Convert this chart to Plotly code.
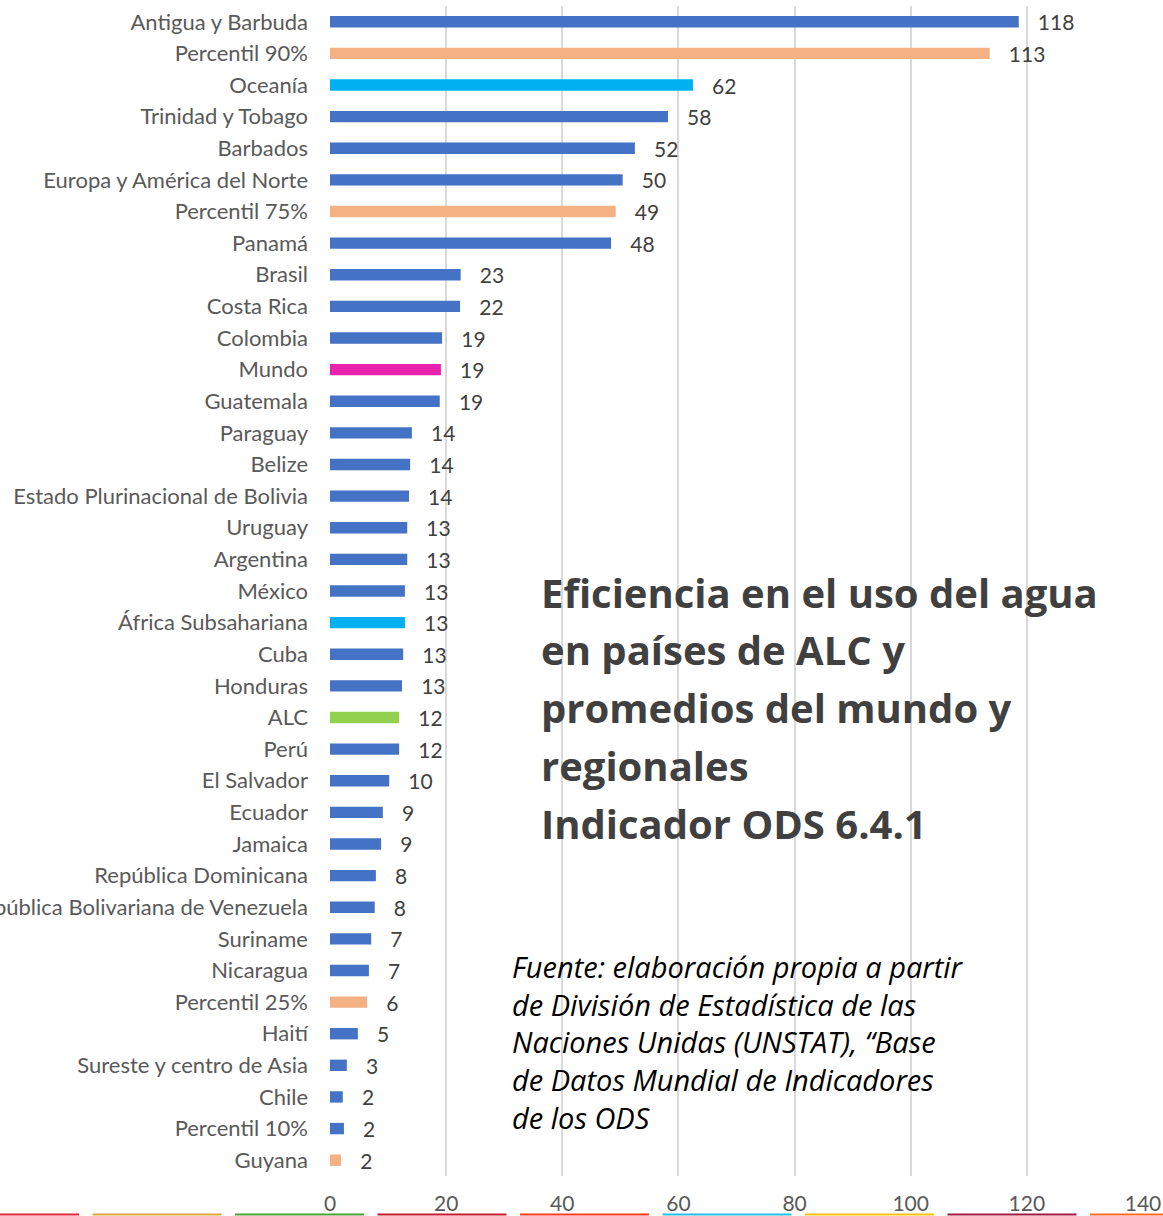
import plotly.graph_objects as go

# categories, top to bottom as drawn
paises = [
    "Antigua y Barbuda", "Percentil 90%", "Oceanía", "Trinidad y Tobago", "Barbados",
    "Europa y América del Norte", "Percentil 75%", "Panamá", "Brasil", "Costa Rica",
    "Colombia", "Mundo", "Guatemala", "Paraguay", "Belize",
    "Estado Plurinacional de Bolivia", "Uruguay", "Argentina", "México", "África Subsahariana",
    "Cuba", "Honduras", "ALC", "Perú", "El Salvador",
    "Ecuador", "Jamaica", "República Dominicana", "República Bolivariana de Venezuela", "Suriname",
    "Nicaragua", "Percentil 25%", "Haití", "Sureste y centro de Asia", "Chile",
    "Percentil 10%", "Guyana",
]
# bar lengths
valores = [
    118.6, 113.6, 62.5, 58.2, 52.5,
    50.4, 49.2, 48.4, 22.5, 22.4,
    19.3, 19.1, 18.9, 14.1, 13.8,
    13.6, 13.3, 13.3, 12.9, 12.9,
    12.6, 12.4, 11.9, 11.9, 10.2,
    9.1, 8.8, 7.9, 7.7, 7.1,
    6.7, 6.4, 4.8, 2.9, 2.2,
    2.4, 1.9,
]
# data labels as printed
etiquetas = [
    118, 113, 62, 58, 52, 50, 49, 48, 23, 22, 19, 19, 19, 14, 14, 14, 13, 13, 13, 13,
    13, 13, 12, 12, 10, 9, 9, 8, 8, 7, 7, 6, 5, 3, 2, 2, 2,
]
# group of each bar: p = país, q = percentil, r = región, m = mundo, a = ALC
grupos = list("pqrpppqppppmpppppppr" "ppappppppppqppppqp")
colores_grupo = {"p": "#4472C4", "q": "#F4B183", "r": "#00B0F0", "m": "#E824AE", "a": "#92D050"}

titulo = ["Eficiencia en el uso del agua", "en países de ALC y",
          "promedios del mundo y", "regionales", "Indicador ODS 6.4.1"]
fuente = ("<i>Fuente: elaboración propia a partir<br>de División de Estadística de las<br>"
          "Naciones Unidas (UNSTAT), “Base<br>de Datos Mundial de Indicadores<br>de los ODS</i>")

fig = go.Figure()
fig.add_trace(go.Bar(
    y=paises,
    x=valores,
    orientation="h",
    width=0.36,
    marker=dict(color=[colores_grupo[g] for g in grupos], line=dict(width=0)),
    text=["   " + str(e) for e in etiquetas],
    textposition="outside",
    constraintext="none",
    textfont=dict(family="Lato", size=21, color="#404040"),
    cliponaxis=False,
))

fig.update_layout(
    width=1163, height=1216,
    margin=dict(l=330, r=20, t=6, b=40),
    plot_bgcolor="white", paper_bgcolor="white",
    showlegend=False,
    font=dict(family="Lato", size=21, color="#595959"),
)
fig.update_xaxes(
    range=[0, 140], dtick=20,
    showgrid=True, gridcolor="#D9D9D9", gridwidth=2,
    zeroline=False, showline=False,
    tickfont=dict(family="Lato", size=21, color="#595959"),
    ticklabelstandoff=13,
    automargin=False,
)
fig.update_yaxes(
    autorange="reversed",
    showgrid=False, showline=False, ticks="",
    tickfont=dict(family="Lato", size=22, color="#595959"),
    ticklabelstandoff=21,
    automargin=False,
)

# pixel -> paper helpers for the free text and the strip
def py(px):
    return (1176 - px) / 1170

def pxx(px):
    return (px - 330) / 813

# title, one annotation per line to get the wide line spacing
for i, linea in enumerate(titulo):
    fig.add_annotation(
        xref="paper", yref="paper", x=pxx(539), y=py(592 + 57.8 * i),
        xanchor="left", yanchor="middle", showarrow=False,
        text="<b>" + linea + "</b>",
        font=dict(family="Open Sans", size=40, color="#404040"),
    )
fig.add_annotation(
    xref="paper", yref="paper", x=pxx(510), y=py(945), xanchor="left", yanchor="top",
    align="left", showarrow=False, text=fuente,
    font=dict(family="Open Sans", size=29, color="#000000"),
)

# decorative strip of ODS colours along the bottom edge
franja = ["#E5243B", "#DDA63A", "#4C9F38", "#C5192D", "#FF3A21",
          "#26BDE2", "#FCC30B", "#A21942", "#FD6925"]
for i, c in enumerate(franja):
    x0 = max(-50 + 142.5 * i, 0)
    x1 = -50 + 142.5 * i + 129
    fig.add_shape(
        type="line", xref="paper", yref="paper",
        x0=pxx(x0), x1=pxx(x1), y0=py(1214.5), y1=py(1214.5),
        line=dict(color=c, width=2),
    )

# drop the page's default body margin so the figure sits at the top-left corner
fig.write_html(
    "out.html",
    config={"displayModeBar": False},
    post_script="document.body.style.margin='0';",
)
